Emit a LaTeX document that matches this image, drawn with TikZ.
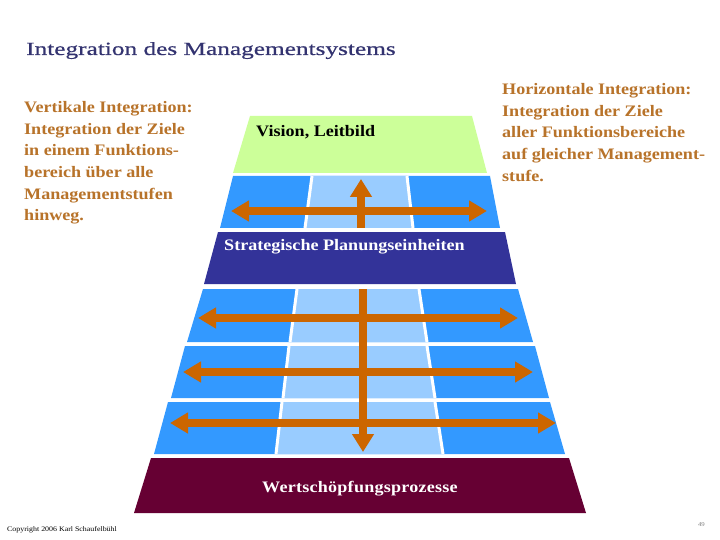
\documentclass[tikz,border=0pt]{standalone}
\usepackage{fontspec}
\setmainfont[FakeStretch=1.13]{Liberation Serif}
\newfontfamily\titlefont[FakeStretch=1.36,FakeBold=0.6]{Liberation Serif}
\usepackage{tikz}
\usetikzlibrary{arrows.meta}

\definecolor{titleblue}{HTML}{333370}
\definecolor{visiongreen}{HTML}{CCFF99}
\definecolor{unitblue}{HTML}{3399FF}
\definecolor{midblue}{HTML}{99CCFF}
\definecolor{planblue}{HTML}{333399}
\definecolor{valuered}{HTML}{660033}
\definecolor{arroworange}{HTML}{CC6600}
\definecolor{notebrown}{HTML}{B8732A}

\begin{document}
\begin{tikzpicture}[x=1pt,y=-1pt,line join=miter,
  note/.style={anchor=north west,align=left,inner sep=0pt,text=notebrown,
    font=\fontsize{16}{21.7}\selectfont\bfseries},
  band/.style={font=\fontsize{16}{18}\selectfont\bfseries,inner sep=0pt},
  harrow/.style={arroworange,line width=7.5pt,{Triangle[length=18pt,width=20pt]}-{Triangle[length=18pt,width=20pt]}},
  varrow/.style={arroworange,line width=7.5pt,-{Triangle[length=18pt,width=21pt]}}]
\useasboundingbox (0,0) rectangle (720,540);
\fill[white] (0,0) rectangle (720,540);

\node[anchor=base west,inner sep=0pt,text=titleblue,font=\titlefont\fontsize{18.6}{22}\selectfont] (title) at (26,55) {Integration des Managementsystems};

% top level
\fill[visiongreen] (250,116) -- (472,116) -- (487,173) -- (233,173) -- cycle;
\node[band,anchor=base west] (vision) at (256,137) {Vision, Leitbild};

% function rows: top y / bottom y / left top x / left bottom x / right top x / right bottom x / middle
\foreach \yt/\yb/\lt/\lb/\rt/\rb/\mlt/\mlb/\mrt/\mrb in {
176/228/233/220/490/500/312/305/407/413,
289/342/203/187/518/533/297/290/419/427,
346/398/185/171/535/549/289/283/427/435,
402/454/168/154/550/565/282/276/435/443} {
  \fill[unitblue] (\lt,\yt) -- (\rt,\yt) -- (\rb,\yb) -- (\lb,\yb) -- cycle;
  \fill[midblue] (\mlt,\yt) -- (\mrt,\yt) -- (\mrb,\yb) -- (\mlb,\yb) -- cycle;
  \draw[white,line width=3pt] (\mlt,\yt) -- (\mlb,\yb) (\mrt,\yt) -- (\mrb,\yb);
}

% arrows
\coordinate (up1) at (361,228);
\coordinate (up2) at (361,179);
\draw[varrow] (up1) -- (up2);
\coordinate (dn1) at (363,289);
\coordinate (dn2) at (363,452);
\draw[varrow] (dn1) -- (dn2);
\foreach \n/\y/\xl/\xr in {1/211/231/487,2/318/198/518,3/372/183/533,4/423/170/556} {
  \coordinate (l\n) at (\xl,\y);
  \coordinate (r\n) at (\xr,\y);
  \draw[harrow] (l\n) -- (r\n);
}

% strategic level
\fill[planblue] (218,232) -- (505,232) -- (516,284) -- (204,284) -- cycle;
\node[band,anchor=base west,text=white] (plan) at (224,250) {Strategische Planungseinheiten};

% operative level
\fill[valuered] (151,458) -- (569,458) -- (586,513) -- (134,513) -- cycle;
\node[band,anchor=base,text=white,font=\fontsize{16}{18}\selectfont\bfseries\addfontfeature{LetterSpace=1.5}] (value) at (360,492) {Wertschöpfungsprozesse};

\node[note] (vertical) at (24,101) {Vertikale Integration:\\Integration der Ziele\\in einem Funktions-\\bereich über alle\\Managementstufen\\hinweg.};
\node[note] (horizontal) at (502,83) {Horizontale Integration:\\Integration der Ziele\\aller Funktionsbereiche\\auf gleicher Management-\\stufe.};

\node[anchor=west,inner sep=0pt,font=\fontsize{7}{8}\selectfont] (copy) at (7,530) {Copyright 2006 Karl Schaufelbühl};
\node[anchor=east,inner sep=0pt,font=\fontsize{6}{7}\selectfont,text=gray] (page) at (705,525) {49};
\end{tikzpicture}
\end{document}
